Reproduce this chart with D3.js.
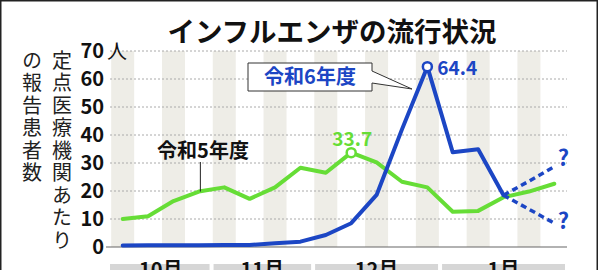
<!DOCTYPE html>
<html><head><meta charset="utf-8">
<script src="https://cdn.jsdelivr.net/npm/d3@7"></script>
<style>
html,body{margin:0;padding:0;background:#fff;}
svg{display:block;}
text{font-family:"Noto Sans CJK JP","Noto Sans",sans-serif;}
</style></head>
<body>
<svg id="c" width="600" height="270"></svg>
<script>
// ---- data ----
const weeks = d3.range(18);               // weekly points Oct–Jan
const months = ["10月","11月","12月","1月"];
const monthWeeks = [4, 4, 5, 5];          // weeks per month
const r5 = [10, 11, 16.4, 19.8, 21.3, 17.2, 21.3, 28.3, 26.5, 33.7, 30.2, 23.3, 21.3, 12.6, 12.9, 17.8, 19.8, 22.6];
const r6 = [0.5, 0.6, 0.6, 0.6, 0.7, 0.7, 1.3, 1.9, 4.3, 8.5, 18.6, 42, 64.4, 33.8, 34.9, 18.5];
const r6Up = [18.5, 23.5, 28.7];          // projection (dashed)
const r6Down = [18.5, 13.5, 8.5];
const yTicks = [0, 10, 20, 30, 40, 50, 60, 70];
const title = "インフルエンザの流行状況";
const yLabel1 = "定点医療機関あたり";
const yLabel2 = "の報告患者数";

const GREEN = "#66dd36", BLUE = "#1c46c4";
const svg = d3.select("#c");

// frame
svg.append("rect").attr("x",0.75).attr("y",0.75).attr("width",596.5).attr("height",290)
  .attr("fill","#fff").attr("stroke","#222").attr("stroke-width",1.5);

const x = d3.scaleBand().domain(weeks).range([110, 567]).paddingInner(0).paddingOuter(0);
const cx = i => x(i) + x.bandwidth()/2;
const y = d3.scaleLinear().domain([0, 70]).range([247, 51]);

// stripes
svg.append("g").selectAll("rect").data(weeks.filter(i => i % 2 === 0)).join("rect")
  .attr("x", i => cx(i) - 11.5).attr("width", 23)
  .attr("y", y(70)).attr("height", y(0) - y(70))
  .attr("fill", "#eeede7");

// grid
svg.append("g").selectAll("line").data(yTicks.filter(v => v > 0)).join("line")
  .attr("x1", 110).attr("x2", 567).attr("y1", d => y(d)).attr("y2", d => y(d))
  .attr("stroke", "#aaa").attr("stroke-width", 1).attr("stroke-dasharray", "2,2");
svg.append("line").attr("x1",106).attr("x2",567).attr("y1",y(0)).attr("y2",y(0))
  .attr("stroke","#666").attr("stroke-width",1.2);

// y tick labels
svg.append("g").selectAll("text").data(yTicks).join("text")
  .attr("x", 104).attr("y", d => y(d)).attr("dy","0.36em")
  .attr("text-anchor","end").attr("font-size",20).attr("font-weight","bold")
  .attr("font-family","'Liberation Sans', Arial, sans-serif").attr("fill","#111")
  .text(d => d);
svg.append("text").attr("x",107).attr("y",y(70)).attr("dy","0.4em")
  .attr("font-size",20).attr("fill","#111").text("人");

// y axis label (vertical)
function vtext(str, xc, y0){
  svg.append("text").attr("x", xc).attr("y", y0)
    .style("writing-mode","vertical-rl").attr("letter-spacing", 2.5)
    .attr("font-size",20).attr("fill","#222").text(str);
}
vtext(yLabel1, 62, 50);
vtext(yLabel2, 32, 50);

// title
svg.append("text").attr("x",332).attr("y",42).attr("text-anchor","middle")
  .attr("font-size",27.5).attr("font-weight","bold").attr("fill","#111").text(title);

// month bars
let acc = 0;
const mdata = months.map((m,k) => { const s = acc; acc += monthWeeks[k]; return {m, s, e: acc}; });
const mg = svg.append("g").selectAll("g").data(mdata).join("g");
mg.append("rect").attr("x", d => x(d.s) + (d.s === 0 ? 0 : 2)).attr("y", 264)
  .attr("width", d => x(d.e - 1) + x.bandwidth() - x(d.s) - (d.s === 0 ? 2 : 4)).attr("height", 10)
  .attr("fill", "#d6d6d6");
mg.append("text").attr("x", d => (x(d.s) + x(d.e - 1) + x.bandwidth())/2).attr("y", 277)
  .attr("text-anchor","middle").attr("font-size",20).attr("font-weight","bold").attr("fill","#111")
  .text(d => d.m);

// lines
const line = d3.line().x((d,i) => cx(i)).y(d => y(d));
svg.append("path").attr("d", line(r5)).attr("fill","none").attr("stroke",GREEN)
  .attr("stroke-width",4).attr("stroke-linejoin","round").attr("stroke-linecap","round");
const lineP = d3.line().x((d,i) => cx(i + 15)).y(d => y(d));
[r6Up, r6Down].forEach(arr => {
  svg.append("path").attr("d", lineP(arr)).attr("fill","none").attr("stroke",BLUE)
    .attr("stroke-width",3.5).attr("stroke-dasharray","6,4");
});
svg.append("path").attr("d", line(r6)).attr("fill","none").attr("stroke",BLUE)
  .attr("stroke-width",4).attr("stroke-linejoin","round").attr("stroke-linecap","round");

// question marks
[r6Up[2], r6Down[2]].forEach((v,k) => {
  svg.append("text").attr("x", cx(17) + 9).attr("y", y(v) + (k===0 ? -1 : 6))
    .attr("text-anchor","middle").attr("font-size",22).attr("font-weight","bold")
    .attr("font-family","Roboto, sans-serif").attr("fill",BLUE).text("?");
});

// peak markers
const i5 = r5.indexOf(d3.max(r5)), i6 = r6.indexOf(d3.max(r6));
svg.append("circle").attr("cx",cx(i5)).attr("cy",y(r5[i5])).attr("r",4.5)
  .attr("fill","#fff").attr("stroke",GREEN).attr("stroke-width",2.5);
svg.append("circle").attr("cx",cx(i6)).attr("cy",y(r6[i6])).attr("r",4.5)
  .attr("fill","#fff").attr("stroke",BLUE).attr("stroke-width",2.5);
svg.append("text").attr("x",cx(i5)+1).attr("y",y(r5[i5])-7).attr("text-anchor","middle")
  .attr("font-size",19).attr("font-weight","bold").attr("font-family","Roboto, sans-serif")
  .attr("fill",GREEN).text(r5[i5].toFixed(1));
svg.append("text").attr("x",cx(i6)+10).attr("y",y(r6[i6])+8).attr("text-anchor","start")
  .attr("font-size",19).attr("font-weight","bold").attr("font-family","Roboto, sans-serif")
  .attr("fill",BLUE).text(r6[i6].toFixed(1));

// R5 label
svg.append("line").attr("x1",cx(3)+1.5).attr("x2",cx(3)+1.5).attr("y1",162).attr("y2",y(r5[3]))
  .attr("stroke","#222").attr("stroke-width",1);
svg.append("text").attr("x",203).attr("y",158).attr("text-anchor","middle")
  .attr("font-size",20).attr("font-weight","bold").attr("fill","#111").text("令和5年度");

// R6 callout box
svg.append("path")
  .attr("d", `M248,63 H372 V71 L${cx(11)+10},89 L372,83 V91 H248 Z`)
  .attr("fill","#fff").attr("stroke","#333").attr("stroke-width",1);
svg.append("text").attr("x",310).attr("y",84).attr("text-anchor","middle")
  .attr("font-size",20).attr("font-weight","bold").attr("fill",BLUE).text("令和6年度");
</script>
</body></html>
